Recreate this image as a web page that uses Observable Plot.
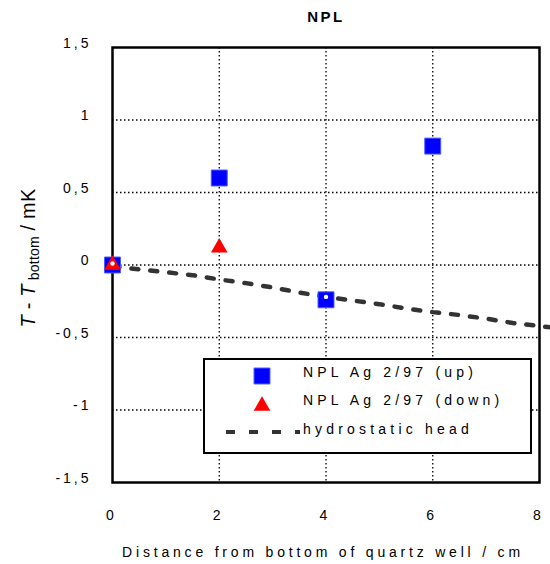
<!DOCTYPE html>
<html>
<head>
<meta charset="utf-8">
<script src="https://cdn.jsdelivr.net/npm/d3@7"></script>
<script src="https://cdn.jsdelivr.net/npm/@observablehq/plot@0.6"></script>
<style>
  html, body { margin: 0; padding: 0; background: #fff; }
  #chart { width: 550px; height: 564px; }
</style>
</head>
<body>
<div id="chart"></div>
<script>
// ---- data ----
const upX = [0, 2, 4, 6];
const upY = [0, 0.6, -0.24, 0.82];
const downX = [0, 2];
const downY = [0, 0.12];
const markX = [0, 4];
const markY = [0.01, -0.22];
const hydroX = [0, 0.5, 1, 1.5, 2, 2.5, 3, 3.5, 4, 4.5, 5, 5.5, 6, 6.5, 7, 7.5, 8, 8.2];
const hydroY = [-0.01, -0.03, -0.05, -0.07, -0.1, -0.125, -0.155, -0.19, -0.22, -0.245, -0.27, -0.3, -0.325, -0.345, -0.37, -0.4, -0.42, -0.43];
const xTicks = [0, 2, 4, 6, 8];
const yTicks = [-1.5, -1, -0.5, 0, 0.5, 1, 1.5];
const xGrid = [2, 4, 6];
const yGrid = [-1, -0.5, 0, 0.5, 1];
const legendLabels = ["NPL Ag 2/97 (up)", "NPL Ag 2/97 (down)", "hydrostatic head"];
const titleText = "NPL";
const xLabel = "Distance from bottom of quartz well / cm";

const up = upX.map((x, i) => ({x, y: upY[i]}));
const down = downX.map((x, i) => ({x, y: downY[i]}));
const marks = markX.map((x, i) => ({x, y: markY[i]}));
const hydro = hydroX.map((x, i) => ({x, y: hydroY[i]}));

const fmt = d => String(d).replace(".", ",");

const plot = Plot.plot({
  width: 550,
  height: 564,
  marginLeft: 112,
  marginRight: 11,
  marginTop: 47,
  marginBottom: 82,
  style: {fontFamily: "'Liberation Sans', Arial, sans-serif", fontSize: "14px", background: "white", color: "black"},
  x: {domain: [0, 8]},
  y: {domain: [-1.5, 1.5]},
  marks: [
    Plot.ruleX(xGrid, {stroke: "black", strokeWidth: 1.3, strokeDasharray: "1.5,2.5"}),
    Plot.ruleY(yGrid, {stroke: "black", strokeWidth: 1.3, strokeDasharray: "1.5,2.5"}),
    Plot.axisX({ticks: xTicks, tickFormat: fmt, tickSize: 0, tickPadding: 28, dx: -1, label: null}),
    Plot.axisY({ticks: yTicks, tickFormat: fmt, tickSize: 0, tickPadding: 21, dy: -4, label: null}),
    Plot.line(hydro, {x: "x", y: "y", stroke: "#333", strokeWidth: 4.5, strokeDasharray: "7,12", clip: false}),
    Plot.frame({stroke: "black", strokeWidth: 2.5}),
    Plot.dot(up, {x: "x", y: "y", symbol: "square", r: 9, fill: "#0000ff", stroke: "#4a5cff", strokeWidth: 1}),
    Plot.dot(down, {x: "x", y: "y", symbol: "triangle", r: 6.2, fill: "#ff0000"}),
    Plot.dot(marks, {x: "x", y: "y", r: 2.2, fill: "white"})
  ]
});

document.getElementById("chart").appendChild(plot);
const svg = d3.select(plot);

svg.selectAll('[aria-label="x-axis tick label"] text, [aria-label="y-axis tick label"] text')
  .attr("letter-spacing", "3px");

// title
svg.append("text").attr("x", 326).attr("y", 22).attr("text-anchor", "middle")
  .attr("font-weight", "bold").attr("font-size", 15).attr("letter-spacing", "2.5px").text(titleText);

// x label
svg.append("text").attr("x", 323).attr("y", 557).attr("text-anchor", "middle")
  .attr("font-size", 14).attr("letter-spacing", "3.8px").text(xLabel);

// y label
const yl = svg.append("text").attr("transform", "translate(35,258) rotate(-90)")
  .attr("text-anchor", "middle").attr("font-size", 20).attr("letter-spacing", "0.2px")
  .style("white-space", "pre");
yl.append("tspan").attr("font-style", "italic").text("T");
yl.append("tspan").text(" - ");
yl.append("tspan").attr("font-style", "italic").text("T");
yl.append("tspan").attr("font-size", 14).attr("dy", 4).text(" bottom");
yl.append("tspan").attr("dy", -4).text(" / mK");

// legend
const lg = svg.append("g");
lg.append("rect").attr("x", 204).attr("y", 359).attr("width", 327).attr("height", 94)
  .attr("fill", "white").attr("stroke", "black").attr("stroke-width", 2);
lg.append("path").attr("d", d3.symbol(d3.symbolSquare, Math.PI * 81)())
  .attr("transform", "translate(262,376)").attr("fill", "#0000ff").attr("stroke", "#4a5cff");
lg.append("path").attr("d", d3.symbol(d3.symbolTriangle, Math.PI * 6.2 * 6.2)())
  .attr("transform", "translate(262,406)").attr("fill", "#ff0000");
lg.append("line").attr("x1", 226).attr("x2", 300).attr("y1", 432).attr("y2", 432)
  .attr("stroke", "#333").attr("stroke-width", 4).attr("stroke-dasharray", "9,14");
const ly = [377, 405, 434];
legendLabels.forEach((t, i) => {
  lg.append("text").attr("x", 303).attr("y", ly[i]).attr("font-size", 14)
    .attr("text-anchor", "start")
    .attr("letter-spacing", "4.2px").style("white-space", "pre").text(t);
});
</script>
</body>
</html>
